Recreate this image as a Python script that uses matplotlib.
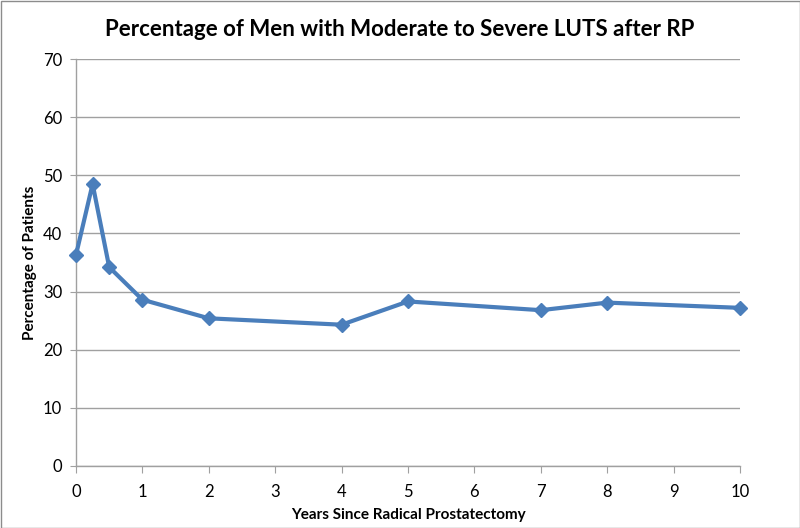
import matplotlib
matplotlib.use("Agg")
import matplotlib.pyplot as plt
from matplotlib.patches import Rectangle

years = [0, 0.25, 0.5, 1, 2, 4, 5, 7, 8, 10]
percent = [36.3, 48.5, 34.2, 28.6, 25.4, 24.3, 28.3, 26.8, 28.1, 27.2]
x_ticks = list(range(0, 11))
y_ticks = list(range(0, 71, 10))

plt.rcParams['font.family'] = ['Lato', 'DejaVu Sans']

fig = plt.figure(figsize=(8, 5.28), dpi=100)
ax = fig.add_axes([76/800, 1-466/528, (740-76)/800, (466-59)/528])

ax.plot(years, percent, color='#4A7EBB', linewidth=3, marker='D', markersize=7,
        markerfacecolor='#4A7EBB', markeredgecolor='#4A7EBB', zorder=3, clip_on=False)

ax.set_xlim(0, 10)
ax.set_ylim(0, 70)
ax.set_xticks(x_ticks)
ax.set_yticks(y_ticks)
ax.grid(axis='y', color='#A0A0A0', linewidth=1)
ax.set_axisbelow(True)
for s in ['top', 'right']:
    ax.spines[s].set_visible(False)
for s in ['left', 'bottom']:
    ax.spines[s].set_color('#A0A0A0')
    ax.spines[s].set_linewidth(1)
ax.tick_params(axis='x', direction='out', length=5, color='#A0A0A0', labelsize=12, pad=8)
ax.tick_params(axis='y', direction='out', length=4, color='#A0A0A0', labelsize=12, pad=6)

ax.set_xlabel('Years Since Radical Prostatectomy', fontsize=11, fontweight='bold', labelpad=6)
ax.set_ylabel('Percentage of Patients', fontsize=11, fontweight='bold', labelpad=4)
fig.text(0.5, 1-30/528, 'Percentage of Men with Moderate to Severe LUTS after RP',
         ha='center', va='center', fontsize=16, fontweight='bold')

fig.patches.append(Rectangle((0.5/800, 0.5/528), 1-1/800, 1-1/528, transform=fig.transFigure,
                             fill=False, edgecolor='#8C8C8C', linewidth=1))

fig.savefig('out.png', dpi=100)
